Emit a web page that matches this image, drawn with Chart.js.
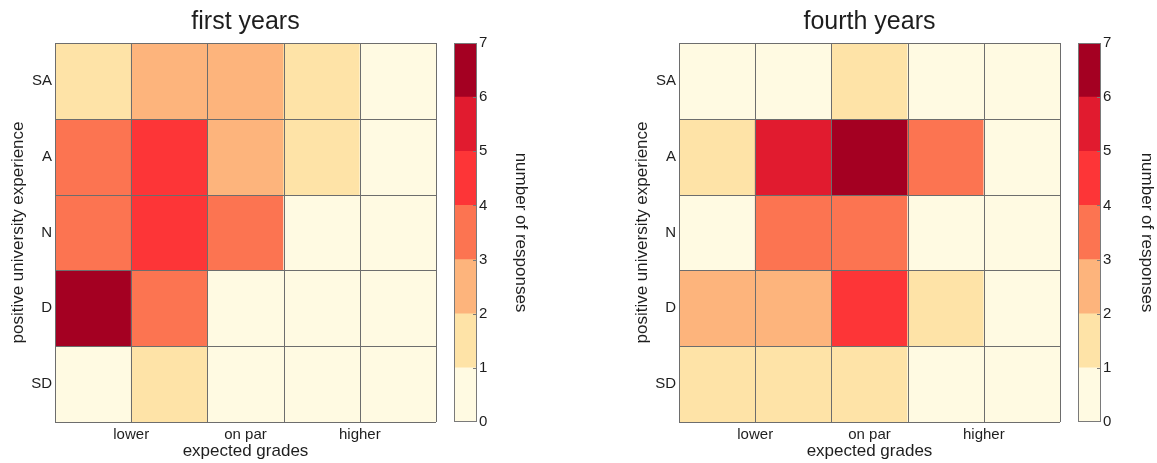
<!DOCTYPE html>
<html>
<head>
<meta charset="utf-8">
<title>expected grades vs university experience</title>
<script src="https://cdn.jsdelivr.net/npm/chart.js@4.4.0/dist/chart.umd.min.js"></script>
<style>
    html, body { margin: 0; padding: 0; background: #fff; }
    #wrap { position: relative; width: 1157px; height: 463px; overflow: hidden; }
    canvas { position: absolute; top: 0; }
</style>
</head>
<body>
<div id="wrap">
    <canvas id="heat-first" style="left:0px" width="440" height="463"></canvas>
    <canvas id="bar-first" style="left:440px" width="91" height="463"></canvas>
    <canvas id="heat-fourth" style="left:624px" width="440" height="463"></canvas>
    <canvas id="bar-fourth" style="left:1064px" width="93" height="463"></canvas>
</div>
<script>
// x categories (5 columns), only three of them carry a label
const gradeLabels = ["lower", "on par", "higher"];
const experienceLabels = ["SA", "A", "N", "D", "SD"];

// number of responses, rows = experience (SA..SD), columns = expected grades (low..high)
const firstYears = [
    [1, 2, 2, 1, 0],
    [3, 4, 2, 1, 0],
    [3, 4, 3, 0, 0],
    [6, 3, 0, 0, 0],
    [0, 1, 0, 0, 0]
];
const fourthYears = [
    [0, 0, 1, 0, 0],
    [1, 5, 6, 3, 0],
    [0, 3, 3, 0, 0],
    [2, 2, 4, 1, 0],
    [1, 1, 1, 0, 0]
];

const colorbarTicks = [0, 1, 2, 3, 4, 5, 6, 7];
const binColors = ["#fffae2", "#fee3a7", "#fdb47c", "#fc7451", "#fd3537", "#e11b2f", "#a40022"];

const FONT = "'Liberation Sans', Arial, Helvetica, sans-serif";
const TEXT = "#1e1e1e";
Chart.defaults.font.family = FONT;
Chart.defaults.color = TEXT;

// thin lines between the cells, drawn on top of the bars
const cellGrid = {
    id: "cellGrid",
    afterDatasetsDraw(chart) {
        const { ctx, scales: { x, y } } = chart;
        const cols = chart.data.datasets[0].data.length;
        const rows = chart.data.datasets.length;
        const top = y.getPixelForValue(0.5), bottom = y.getPixelForValue(rows + 0.5);
        const left = x.getPixelForValue(0.5), right = x.getPixelForValue(cols + 0.5);
        ctx.save();
        ctx.strokeStyle = "#6d6d6d";
        ctx.lineWidth = 1;
        ctx.beginPath();
        for (let k = 0; k <= cols; k++) {
            const px = Math.round(x.getPixelForValue(k + 0.5)) + 0.5;
            ctx.moveTo(px, top);
            ctx.lineTo(px, bottom);
        }
        for (let k = 0; k <= rows; k++) {
            const py = Math.round(y.getPixelForValue(k + 0.5)) + 0.5;
            ctx.moveTo(left, py);
            ctx.lineTo(right, py);
        }
        ctx.stroke();
        ctx.restore();
    }
};

// frame and small inner tick marks of the colour bar
const barOutline = {
    id: "barOutline",
    afterDatasetsDraw(chart) {
        const { ctx, chartArea: a, scales: { y } } = chart;
        ctx.save();
        ctx.strokeStyle = "#7a7a7a";
        ctx.lineWidth = 1;
        ctx.strokeRect(Math.round(a.left) + 0.5, Math.round(a.top) + 0.5,
            Math.round(a.right - a.left) - 1, Math.round(a.bottom - a.top) - 1);
        ctx.beginPath();
        colorbarTicks.slice(1, -1).forEach(t => {
            const py = Math.round(y.getPixelForValue(t)) + 0.5;
            ctx.moveTo(a.right - 4, py);
            ctx.lineTo(a.right, py);
        });
        ctx.stroke();
        ctx.restore();
    }
};

function makeHeatmap(canvasId, title, matrix) {
    const datasets = matrix.map((row, r) => ({
        label: experienceLabels[r],
        data: row.map((v, c) => ({ x: c + 1, y: [r + 0.5, r + 1.5], count: v })),
        backgroundColor: ctx => binColors[Math.min(ctx.raw.count, binColors.length - 1)],
        borderWidth: 0,
        barPercentage: 1,
        categoryPercentage: 1,
        grouped: false
    }));

    return new Chart(document.getElementById(canvasId), {
        type: "bar",
        data: { datasets: datasets },
        options: {
            responsive: false,
            animation: false,
            layout: { padding: { right: 4 } },
            plugins: {
                legend: { display: false },
                tooltip: { enabled: false },
                title: {
                    display: true,
                    text: title,
                    fullSize: false,
                    color: TEXT,
                    font: { size: 25, weight: "normal" },
                    padding: { top: 7, bottom: 6 }
                }
            },
            scales: {
                x: {
                    type: "linear",
                    min: 0.5,
                    max: matrix[0].length + 0.5,
                    offset: false,
                    grid: { display: false, drawTicks: false },
                    border: { display: false },
                    afterBuildTicks: s => {
                        // labels sit on the column borders 1|2 and 4|5 and on the middle column
                        s.ticks = [1.5, 3, 4.5].map(v => ({ value: v }));
                    },
                    ticks: {
                        autoSkip: false,
                        maxRotation: 0,
                        padding: 4,
                        font: { size: 15 },
                        callback: (v, i) => gradeLabels[i]
                    },
                    title: {
                        display: true,
                        text: "expected grades",
                        font: { size: 17 },
                        padding: { top: 0, bottom: 1 }
                    },
                    afterFit: s => { s.height = 41; }
                },
                y: {
                    type: "linear",
                    min: 0.5,
                    max: matrix.length + 0.5,
                    reverse: true,
                    grid: { display: false, drawTicks: false },
                    border: { display: false },
                    afterBuildTicks: s => {
                        s.ticks = experienceLabels.map((_, i) => ({ value: i + 1 }));
                    },
                    ticks: {
                        padding: 3,
                        font: { size: 15 },
                        callback: (v, i) => experienceLabels[i]
                    },
                    title: {
                        display: true,
                        text: "positive university experience",
                        font: { size: 17 },
                        padding: { top: 8, bottom: 0 }
                    },
                    afterFit: s => { s.width = 55; }
                }
            }
        },
        plugins: [cellGrid]
    });
}

function makeColorbar(canvasId) {
    const canvas = document.getElementById(canvasId);
    const datasets = binColors.map((color, k) => ({
        data: [{ x: "bin", y: [colorbarTicks[k], colorbarTicks[k + 1]] }],
        backgroundColor: color,
        borderWidth: 0,
        barPercentage: 1,
        categoryPercentage: 1,
        grouped: false
    }));

    return new Chart(canvas, {
        type: "bar",
        data: { labels: ["bin"], datasets: datasets },
        options: {
            responsive: false,
            animation: false,
            layout: { padding: { left: 14, top: 43, bottom: 41, right: 0 } },
            plugins: {
                legend: { display: false },
                tooltip: { enabled: false }
            },
            scales: {
                x: { display: false },
                y: {
                    position: "right",
                    min: colorbarTicks[0],
                    max: colorbarTicks[colorbarTicks.length - 1],
                    grid: { display: false, drawTicks: false },
                    border: { display: false },
                    ticks: { stepSize: 1, padding: 2, font: { size: 15 } },
                    title: {
                        display: true,
                        text: "number of responses",
                        font: { size: 17 },
                        padding: { top: 0, bottom: 0 }
                    },
                    afterFit: s => { s.width = canvas.width - 37; }
                }
            }
        },
        plugins: [barOutline]
    });
}

makeHeatmap("heat-first", "first years", firstYears);
makeColorbar("bar-first");
makeHeatmap("heat-fourth", "fourth years", fourthYears);
makeColorbar("bar-fourth");
</script>
</body>
</html>
